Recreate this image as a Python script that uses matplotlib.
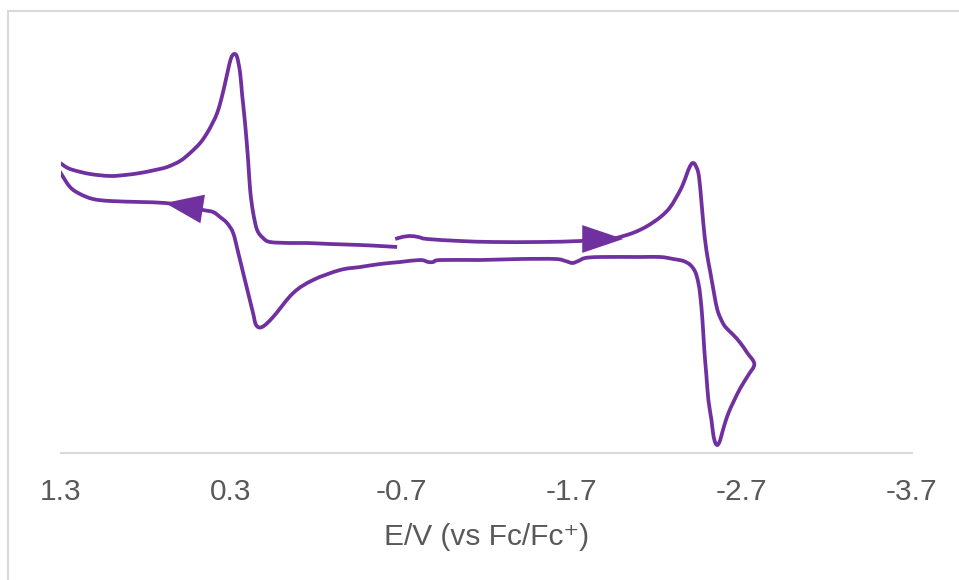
import numpy as np
import matplotlib
matplotlib.use("Agg")
import matplotlib.pyplot as plt
from matplotlib.patches import Rectangle, PathPatch
from matplotlib.path import Path

plt.rcParams['font.family'] = ['Liberation Sans', 'DejaVu Sans']
plt.rcParams['axes.unicode_minus'] = False

# cyclic voltammogram, scan order (E in V vs Fc/Fc+, current in a.u.)
# start -> negative sweep -> vertex -2.78 V -> positive sweep -> vertex ~1.35 V -> back
E = [-0.665, -0.706, -0.753, -0.800, -0.853, -1.047, -1.241, -1.518, -1.753, -1.929,
     -2.006, -2.076, -2.147, -2.224, -2.282, -2.341, -2.371, -2.388, -2.406, -2.418,
     -2.429, -2.447, -2.459, -2.476, -2.494, -2.518, -2.541, -2.559, -2.582, -2.606,
     -2.653, -2.694, -2.735, -2.776,
     -2.741, -2.694, -2.653, -2.624, -2.600, -2.582, -2.571, -2.559, -2.547, -2.535,
     -2.524, -2.506, -2.494, -2.482, -2.471, -2.459, -2.447, -2.429, -2.400, -2.359,
     -2.300, -2.224, -2.106, -1.871, -1.782, -1.741, -1.706, -1.665, -1.606, -1.400,
     -1.165, -0.929, -0.888, -0.859, -0.812, -0.694, -0.576, -0.459, -0.341, -0.182,
     -0.065, 0.053, 0.118, 0.153, 0.171, 0.200, 0.229, 0.259, 0.288, 0.324, 0.365,
     0.406, 0.465, 0.571, 0.688, 0.835, 1.012, 1.112, 1.188, 1.247, 1.306,
     1.353,
     1.306, 1.271, 1.229, 1.129, 1.012, 0.924, 0.835, 0.747, 0.676, 0.600,
     0.541, 0.482, 0.441, 0.406, 0.382, 0.359, 0.335, 0.318, 0.300, 0.282,
     0.265, 0.247, 0.235, 0.218, 0.200, 0.188, 0.171, 0.147, 0.112, 0.071,
     -0.047, -0.147, -0.282, -0.459, -0.576, -0.676]
I = [21.4, 21.6, 21.7, 21.6, 21.4, 21.2, 21.1, 21.1, 21.2, 21.4,
     21.7, 22.1, 22.7, 23.6, 24.6, 26.3, 27.5, 28.3, 28.9, 29.0,
     28.8, 28.0, 26.3, 23.0, 20.3, 18.0, 15.8, 14.3, 13.3, 12.6,
     11.8, 11.0, 10.0, 8.9,
     7.8, 6.5, 5.1, 4.0, 2.8, 1.7, 1.1, 0.8, 1.0, 1.8,
     3.3, 5.3, 7.8, 10.3, 13.3, 15.6, 17.0, 18.1, 18.8, 19.2,
     19.4, 19.6, 19.6, 19.6, 19.5, 19.2, 19.0, 19.2, 19.4, 19.4,
     19.3, 19.3, 19.1, 19.1, 19.3, 19.1, 18.9, 18.6, 18.3, 17.3,
     16.0, 13.6, 12.6, 12.8, 14.0, 16.0, 18.0, 20.1, 22.0, 23.0, 23.6,
     24.1, 24.3, 24.7, 25.0, 25.1, 25.2, 25.4, 25.9, 26.6, 28.1,
     29.3,
     29.0, 28.6, 28.3, 27.9, 27.7, 27.8, 28.0, 28.3, 28.6, 29.2,
     30.0, 31.0, 32.0, 33.1, 34.0, 35.3, 37.0, 38.3, 39.5, 39.9,
     39.6, 38.0, 35.8, 33.0, 29.3, 26.3, 24.1, 22.3, 21.5, 21.1,
     21.0, 21.0, 20.9, 20.8, 20.7, 20.6]

# scan direction arrows (base, tip)
arrow_base = [(-1.765, 21.4), (0.465, 24.4)]
arrow_tip = [(-2.006, 21.4), (0.688, 25.0)]

xticks = [1.3, 0.3, -0.7, -1.7, -2.7, -3.7]
purple = '#7030A0'
grey_txt = '#595959'


def smooth_path(x, y):
    # Excel-style "smoothed line": cubic Bezier through every point
    p = np.column_stack([x, y])
    n = len(p)
    verts = [p[0]]
    codes = [Path.MOVETO]
    for i in range(n - 1):
        p0 = p[i - 1] if i > 0 else p[i]
        p3 = p[i + 2] if i + 2 < n else p[i + 1]
        c1 = p[i] + (p[i + 1] - p0) / 6.0
        c2 = p[i + 1] - (p3 - p[i]) / 6.0
        verts += [c1, c2, p[i + 1]]
        codes += [Path.CURVE4] * 3
    return Path(verts, codes)


fig = plt.figure(figsize=(9.59, 5.8), dpi=100)
ax = fig.add_axes([61/959, 1-453/580, (911.5-61)/959, (453-30)/580])

ax.add_patch(PathPatch(smooth_path(E, I), facecolor='none', edgecolor=purple,
                       lw=2.7, joinstyle='round', capstyle='butt'))

heads = [(1.48, 0.5), (1.37, 0.52)]
for (b, t), (hl, hw) in zip(zip(arrow_base, arrow_tip), heads):
    ax.annotate('', xy=t, xytext=b,
                arrowprops=dict(arrowstyle='-|>,head_length=%g,head_width=%g' % (hl, hw),
                                mutation_scale=20, color=purple, lw=0,
                                shrinkA=0, shrinkB=0))

ax.set_xlim(1.3, -3.7)
ax.set_ylim(0, 42.3)
ax.set_xticks(xticks)
ax.set_xticklabels(['%g' % v for v in xticks])
ax.set_yticks([])
for s in ['top', 'right', 'left']:
    ax.spines[s].set_visible(False)
ax.spines['bottom'].set_color('#d9d9d9')
ax.spines['bottom'].set_linewidth(1.5)
ax.tick_params(axis='x', length=0, pad=18, labelsize=21.5, labelcolor=grey_txt)
ax.set_xlabel('E/V (vs Fc/Fc\u207a)', fontsize=21.5, color=grey_txt, labelpad=12)

# chart frame
fig.patches.append(Rectangle((8/959, -0.1), 1.2, 1.1 - 11/580, transform=fig.transFigure,
                             fill=False, edgecolor='#d9d9d9', lw=1.5))

fig.savefig('out.png', dpi=100)
